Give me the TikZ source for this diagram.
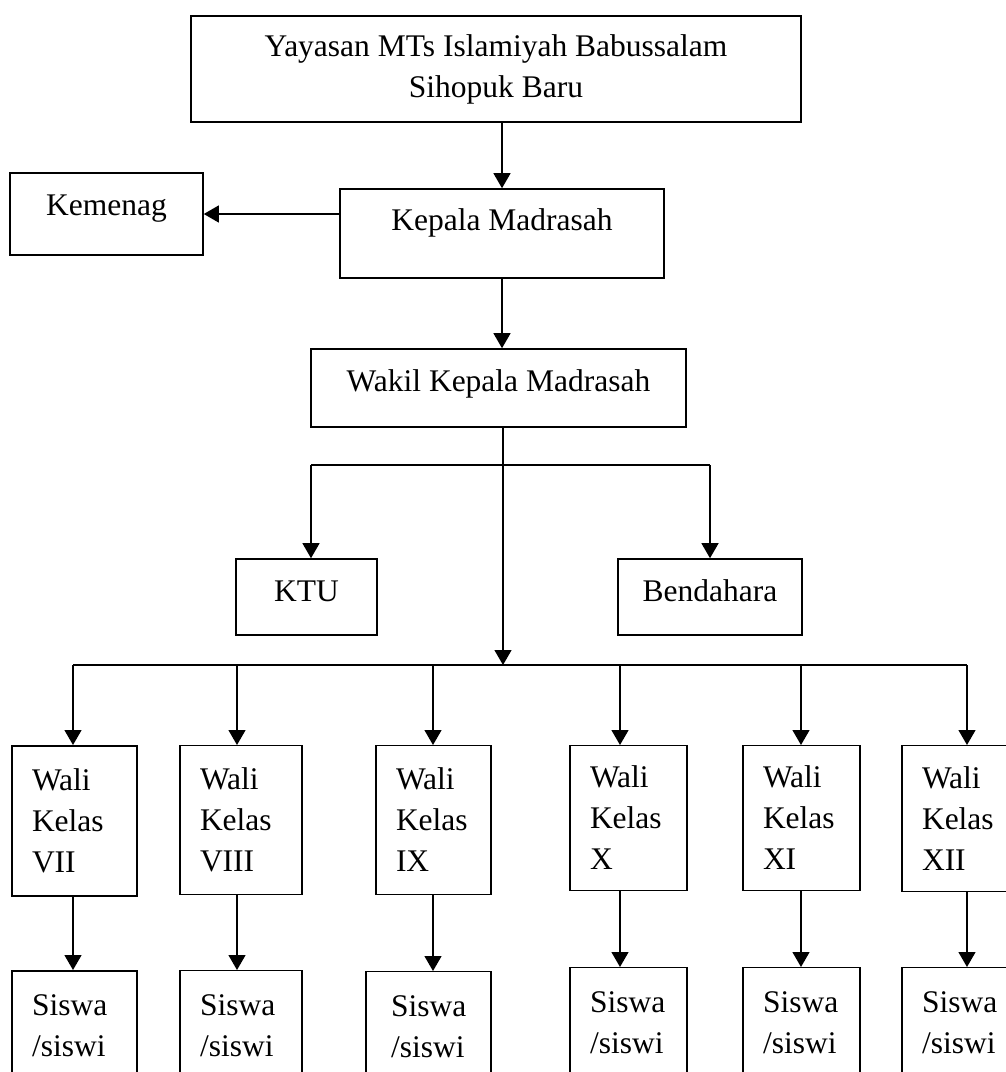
\documentclass[tikz,border=0pt]{standalone}
\usepackage{fontspec}
\setmainfont{Liberation Serif}
\usetikzlibrary{arrows.meta,positioning}

\begin{document}
\begin{tikzpicture}[x=1pt,y=-1pt,
    box/.style={draw,rectangle,line width=1.1pt,inner sep=0pt,
        font=\fontsize{31.5}{41}\selectfont},
    bigbox/.style={box,line width=1.6pt},
    wali/.style={box,align=left,anchor=north,inner xsep=20pt,text width=#1},
    siswa/.style={wali=#1,minimum height=110pt},
    conn/.style={line width=1.3pt},
    arr/.style={conn,-{Triangle[length=15pt,width=17pt]}},
    bus/.style={line width=2pt}]

    \useasboundingbox (0,0) rectangle (1006,1072);

    % the top boxes
    \node[bigbox,minimum width=610pt,minimum height=106pt,align=center] (yayasan)
        at (496,69) {Yayasan MTs Islamiyah Babussalam\\Sihopuk Baru};
    \node[bigbox,minimum width=193pt,minimum height=82pt,text depth=18pt] (kemenag)
        at (106.5,214) {Kemenag};
    \node[bigbox,minimum width=324pt,minimum height=89pt,text depth=27pt] (kepala)
        at (502,233.5) {Kepala Madrasah};
    \node[bigbox,minimum width=375pt,minimum height=78pt,text depth=14pt] (wakil)
        at (498.5,388) {Wakil Kepala Madrasah};
    \node[bigbox,minimum width=141pt,minimum height=76pt,text depth=12pt] (ktu)
        at (306.5,597) {KTU};
    \node[bigbox,minimum width=184pt,minimum height=76pt,text depth=12pt] (bendahara)
        at (710,597) {Bendahara};

    % the wali kelas
    \node[wali=85pt,line width=1.6pt,minimum height=150pt] (w7) at (74.5,745) {Wali\\Kelas\\VII};
    \node[wali=82pt,minimum height=149pt] (w8) at (241,745) {Wali\\Kelas\\VIII};
    \node[wali=75pt,minimum height=149pt] (w9) at (433.5,745) {Wali\\Kelas\\IX};
    \node[wali=77pt,minimum height=145pt] (w10) at (628.5,745) {Wali\\Kelas\\X};
    \node[wali=77pt,minimum height=145pt] (w11) at (801.5,745) {Wali\\Kelas\\XI};
    \node[wali=77pt,minimum height=146pt] (w12) at (960.5,745) {Wali\\Kelas\\XII};

    % the siswa
    \node[siswa=85pt,line width=1.6pt] (s7) at (74.5,970) {Siswa\\/siswi};
    \node[siswa=82pt] (s8) at (241,970) {Siswa\\/siswi};
    \node[siswa=75pt,inner xsep=25pt] (s9) at (428.5,971) {Siswa\\/siswi};
    \node[siswa=77pt] (s10) at (628.5,967) {Siswa\\/siswi};
    \node[siswa=77pt] (s11) at (801.5,967) {Siswa\\/siswi};
    \node[siswa=77pt] (s12) at (960.5,967) {Siswa\\/siswi};

    % the connectors
    \coordinate (fork) at (503,465);
    \coordinate (hub) at (503,665);
    \coordinate (kt) at (311,465);
    \coordinate (bd) at (710,465);
    \coordinate (t7) at (73,665);
    \coordinate (t8) at (237,665);
    \coordinate (t9) at (433,665);
    \coordinate (t10) at (620,665);
    \coordinate (t11) at (801,665);
    \coordinate (t12) at (967,665);

    \draw[arr] (kepala.north |- yayasan.south) -- (kepala.north);
    \draw[arr] (kepala.west |- kemenag.east) -- (kemenag.east);
    \draw[arr] (kepala.south) -- (kepala.south |- wakil.north);
    \draw[arr] (wakil.south -| hub) -- (hub);
    \draw[conn] (kt) -- (bd);
    \draw[arr] (kt) -- (kt |- ktu.north);
    \draw[arr] (bd) -- (bd |- bendahara.north);
    \draw[bus] (t7) -- (t12);

    \draw[arr] (t7) -- (t7 |- w7.north);
    \draw[arr] (t8) -- (t8 |- w8.north);
    \draw[arr] (t9) -- (t9 |- w9.north);
    \draw[arr] (t10) -- (t10 |- w10.north);
    \draw[arr] (t11) -- (t11 |- w11.north);
    \draw[arr] (t12) -- (t12 |- w12.north);

    \draw[arr] (t7 |- w7.south) -- (t7 |- s7.north);
    \draw[arr] (t8 |- w8.south) -- (t8 |- s8.north);
    \draw[arr] (t9 |- w9.south) -- (t9 |- s9.north);
    \draw[arr] (t10 |- w10.south) -- (t10 |- s10.north);
    \draw[arr] (t11 |- w11.south) -- (t11 |- s11.north);
    \draw[arr] (t12 |- w12.south) -- (t12 |- s12.north);

\end{tikzpicture}
\end{document}
